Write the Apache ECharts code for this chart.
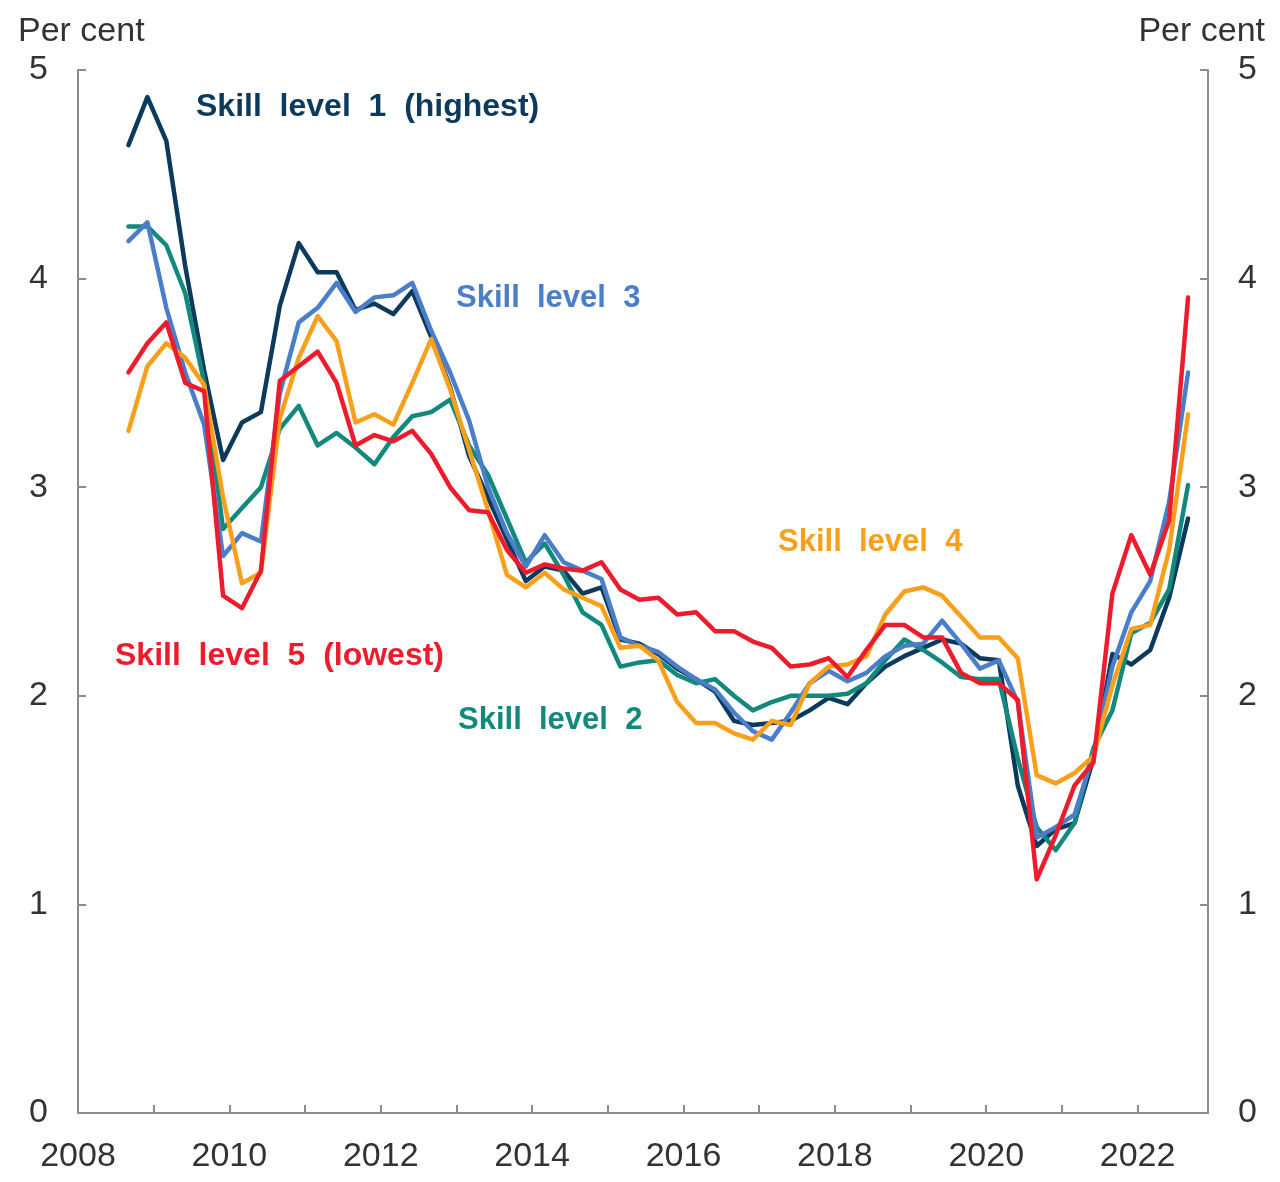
<!DOCTYPE html>
<html>
<head>
<meta charset="utf-8">
<script src="https://cdn.jsdelivr.net/npm/echarts@6/dist/echarts.min.js"></script>
<style>
html,body{margin:0;padding:0;background:#fff;}
#chart{width:1280px;height:1182px;}
</style>
</head>
<body>
<div id="chart"></div>
<script>
// Quarterly observations (year-month)
const quarters = [
  '2008-09','2008-12',
  '2009-03','2009-06','2009-09','2009-12',
  '2010-03','2010-06','2010-09','2010-12',
  '2011-03','2011-06','2011-09','2011-12',
  '2012-03','2012-06','2012-09','2012-12',
  '2013-03','2013-06','2013-09','2013-12',
  '2014-03','2014-06','2014-09','2014-12',
  '2015-03','2015-06','2015-09','2015-12',
  '2016-03','2016-06','2016-09','2016-12',
  '2017-03','2017-06','2017-09','2017-12',
  '2018-03','2018-06','2018-09','2018-12',
  '2019-03','2019-06','2019-09','2019-12',
  '2020-03','2020-06','2020-09','2020-12',
  '2021-03','2021-06','2021-09','2021-12',
  '2022-03','2022-06','2022-09'
];

// Per cent
const skill1 = [4.64, 4.87, 4.66, 4.06, 3.56, 3.13, 3.31, 3.36, 3.87, 4.17,
                4.03, 4.03, 3.85, 3.88, 3.83, 3.94, 3.72, 3.48, 3.15, 2.95,
                2.75, 2.55, 2.62, 2.60, 2.49, 2.52, 2.27, 2.25, 2.20, 2.13,
                2.08, 2.02, 1.88, 1.86, 1.87, 1.88, 1.93, 1.99, 1.96, 2.06,
                2.14, 2.19, 2.23, 2.27, 2.25, 2.18, 2.17, 1.57, 1.28, 1.36,
                1.39, 1.70, 2.20, 2.15, 2.22, 2.47, 2.85];
const skill2 = [4.25, 4.25, 4.16, 3.93, 3.50, 2.80, 2.90, 3.00, 3.28, 3.39,
                3.20, 3.26, 3.19, 3.11, 3.24, 3.34, 3.36, 3.42, 3.20, 3.06,
                2.85, 2.64, 2.73, 2.58, 2.40, 2.34, 2.14, 2.16, 2.17, 2.10,
                2.06, 2.08, 2.00, 1.93, 1.97, 2.00, 2.00, 2.00, 2.01, 2.06,
                2.17, 2.27, 2.22, 2.16, 2.09, 2.08, 2.08, 1.70, 1.37, 1.26,
                1.39, 1.75, 1.93, 2.30, 2.35, 2.51, 3.01];
const skill3 = [4.18, 4.27, 3.86, 3.55, 3.30, 2.67, 2.78, 2.74, 3.45, 3.79,
                3.86, 3.98, 3.84, 3.91, 3.92, 3.98, 3.75, 3.55, 3.32, 3.00,
                2.78, 2.62, 2.77, 2.64, 2.60, 2.56, 2.28, 2.24, 2.21, 2.14,
                2.08, 2.03, 1.92, 1.83, 1.79, 1.92, 2.06, 2.12, 2.07, 2.11,
                2.19, 2.24, 2.25, 2.36, 2.25, 2.13, 2.17, 1.97, 1.32, 1.37,
                1.43, 1.72, 2.14, 2.40, 2.55, 2.93, 3.55];
const skill4 = [3.27, 3.58, 3.69, 3.62, 3.49, 2.95, 2.54, 2.59, 3.33, 3.62,
                3.82, 3.70, 3.31, 3.35, 3.30, 3.50, 3.71, 3.47, 3.18, 2.89,
                2.58, 2.52, 2.59, 2.51, 2.47, 2.43, 2.23, 2.24, 2.17, 1.97,
                1.87, 1.87, 1.82, 1.79, 1.88, 1.86, 2.06, 2.14, 2.15, 2.19,
                2.39, 2.50, 2.52, 2.48, 2.38, 2.28, 2.28, 2.18, 1.62, 1.58,
                1.63, 1.71, 2.05, 2.32, 2.34, 2.70, 3.35];
const skill5 = [3.55, 3.69, 3.79, 3.50, 3.46, 2.48, 2.42, 2.60, 3.51, 3.58,
                3.65, 3.50, 3.20, 3.25, 3.22, 3.27, 3.16, 3.00, 2.89, 2.88,
                2.70, 2.59, 2.63, 2.61, 2.60, 2.64, 2.51, 2.46, 2.47, 2.39,
                2.40, 2.31, 2.31, 2.26, 2.23, 2.14, 2.15, 2.18, 2.09, 2.22,
                2.34, 2.34, 2.28, 2.28, 2.11, 2.06, 2.06, 1.98, 1.12, 1.33,
                1.57, 1.68, 2.49, 2.77, 2.58, 2.84, 3.91];

const seriesNames = ['Skill level 1 (highest)', 'Skill level 2', 'Skill level 3', 'Skill level 4', 'Skill level 5 (lowest)'];
const seriesColors = ['#0b3a5c', '#12897c', '#4a7ec8', '#f8a01c', '#ec1c2d'];
const xTickLabels = ['2008', '2010', '2012', '2014', '2016', '2018', '2020', '2022'];
const yTickLabels = ['0', '1', '2', '3', '4', '5'];
const axisTitle = 'Per cent';

const FONT = '"Liberation Sans", Arial, Helvetica, sans-serif';
const AXIS_COLOR = '#8c8c8c';
const TEXT_COLOR = '#333333';

function toYear(q) {
  const p = q.split('-');
  return parseInt(p[0], 10) + (parseInt(p[1], 10) - 1) / 12;
}
const allSeries = [skill1, skill2, skill3, skill4, skill5];

const chart = echarts.init(document.getElementById('chart'), null, {renderer: 'canvas'});

const yAxisCommon = {
  type: 'value', min: 0, max: 5, interval: 1,
  axisLine: {show: true, lineStyle: {color: AXIS_COLOR, width: 2}},
  axisTick: {show: true, inside: true, length: 8, lineStyle: {color: AXIS_COLOR, width: 2}},
  splitLine: {show: false},
  axisLabel: {
    margin: 30, fontSize: 34, color: TEXT_COLOR, fontFamily: FONT,
    formatter: v => yTickLabels.indexOf(String(v)) >= 0 ? String(v) : ''
  }
};

const labelSpacing = s => s.replace(/ /g, '  ');

chart.setOption({
  animation: false,
  backgroundColor: '#ffffff',
  grid: {left: 78, right: 72, top: 70, bottom: 69, containLabel: false},
  xAxis: {
    type: 'value', min: 2008, max: 2022.93, interval: 1,
    axisLine: {show: true, onZero: false, lineStyle: {color: AXIS_COLOR, width: 2}},
    axisTick: {show: true, inside: true, length: 8, lineStyle: {color: AXIS_COLOR, width: 2}},
    splitLine: {show: false},
    axisLabel: {
      margin: 27, fontSize: 34, color: TEXT_COLOR, fontFamily: FONT,
      showMaxLabel: false,
      formatter: v => xTickLabels.indexOf(String(v)) >= 0 ? String(v) : ''
    }
  },
  yAxis: [
    Object.assign({}, yAxisCommon, {position: 'left'}),
    Object.assign({}, yAxisCommon, {position: 'right'})
  ],
  series: allSeries.map((vals, k) => ({
    name: seriesNames[k],
    type: 'line',
    yAxisIndex: 0,
    showSymbol: false,
    symbol: 'none',
    z: 2 + k,
    lineStyle: {color: seriesColors[k], width: 4.5, join: 'round', cap: 'round'},
    data: vals.map((v, i) => [toYear(quarters[i]), v])
  })),
  graphic: [
    {type: 'text', left: 18, top: 15, style: {text: axisTitle, font: '34px ' + FONT, fill: TEXT_COLOR}},
    {type: 'text', right: 15, top: 15, style: {text: axisTitle, font: '34px ' + FONT, fill: TEXT_COLOR}},
    {type: 'text', x: 196, y: 107, style: {text: labelSpacing(seriesNames[0]), font: 'bold 32px ' + FONT, fill: seriesColors[0], textVerticalAlign: 'middle'}},
    {type: 'text', x: 458, y: 720, style: {text: labelSpacing(seriesNames[1]), font: 'bold 31px ' + FONT, fill: seriesColors[1], textVerticalAlign: 'middle'}},
    {type: 'text', x: 456, y: 298, style: {text: labelSpacing(seriesNames[2]), font: 'bold 31px ' + FONT, fill: seriesColors[2], textVerticalAlign: 'middle'}},
    {type: 'text', x: 778, y: 542, style: {text: labelSpacing(seriesNames[3]), font: 'bold 31px ' + FONT, fill: seriesColors[3], textVerticalAlign: 'middle'}},
    {type: 'text', x: 115, y: 656, style: {text: labelSpacing(seriesNames[4]), font: 'bold 32px ' + FONT, fill: seriesColors[4], textVerticalAlign: 'middle'}}
  ]
});
</script>
</body>
</html>
